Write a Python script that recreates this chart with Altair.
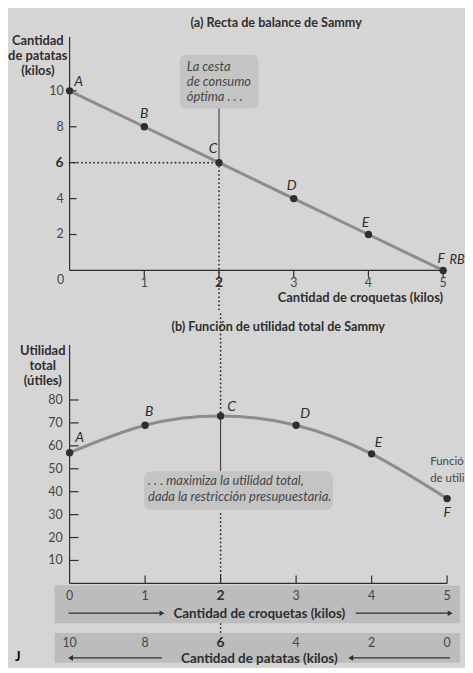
import altair as alt
import pandas as pd

# ---------------- data ----------------
croquetas = [0, 1, 2, 3, 4, 5]
patatas = [10, 8, 6, 4, 2, 0]
utilidad = [57, 69, 73, 69, 56.5, 37]
puntos = ["A", "B", "C", "D", "E", "F"]
ticks_patatas = [2, 4, 6, 8, 10]
ticks_utilidad = [10, 20, 30, 40, 50, 60, 70, 80]
ticks_croquetas = [1, 2, 3, 4, 5]
optimo_croq = 2
optimo_pat = 6
optimo_util = 73

FONT = "Lato"
INK = "#2e2e2e"
SOFT = "#464646"
BG = "#d5d5d5"
LINE = "#8c8c8c"
BAND = "#bcbcbc"
BOX = "#c4c4c4"

W_A, W_B = 376, 380
H_A, H_B = 235, 240

df = pd.DataFrame({"croq": croquetas, "pat": patatas, "util": utilidad, "pt": puntos})
one = pd.DataFrame({"k": [0]})

xs = alt.Scale(domain=[0, 5], nice=False, zero=False)
ysa = alt.Scale(domain=[0, 13], nice=False, zero=False)
ysb = alt.Scale(domain=[0, 104], nice=False, zero=False)


def X(f):
    return alt.X(f, type="quantitative", scale=xs, axis=None)


def Ya(f):
    return alt.Y(f, type="quantitative", scale=ysa, axis=None)


def Yb(f):
    return alt.Y(f, type="quantitative", scale=ysb, axis=None)


def txt(text, x, y, **kw):
    props = dict(font=FONT, color=INK, fontSize=12.5)
    props.update(kw)
    return alt.Chart(one).mark_text(text=text, **props).encode(
        x=alt.value(x), y=alt.value(y))


def rect(x, x2, y, y2, **kw):
    return alt.Chart(one).mark_rect(**kw).encode(
        x=alt.value(x), x2=alt.value(x2), y=alt.value(y), y2=alt.value(y2))


def arrow(x1, x2, y, head_left):
    line = alt.Chart(one).mark_rule(color=INK, strokeWidth=1.2).encode(
        x=alt.value(x1), x2=alt.value(x2), y=alt.value(y))
    hx = x1 if head_left else x2
    head = alt.Chart(one).mark_point(
        shape="triangle-left" if head_left else "triangle-right",
        filled=True, color=INK, opacity=1, size=32).encode(
        x=alt.value(hx), y=alt.value(y))
    return [line, head]


DOT = dict(color=INK, strokeWidth=1.8, strokeDash=[0.1, 4], strokeCap="round")


def tick_labels(values, field_pos, Yf, ypix, boldval, xpix=None, align="center"):
    d = pd.DataFrame({"v": values})
    layers = []
    for cond, wt, fs in [(f"datum.v != {boldval}", "normal", 12.5),
                         (f"datum.v == {boldval}", "bold", 14)]:
        enc = {}
        if field_pos == "x":
            enc["x"] = X("v")
            enc["y"] = alt.value(ypix)
        else:
            enc["y"] = Yf("v")
            enc["x"] = alt.value(xpix)
        enc["text"] = alt.Text("v:Q")
        layers.append(alt.Chart(d).transform_filter(cond).mark_text(
            font=FONT, color=SOFT if wt == "normal" else INK, fontSize=fs, fontWeight=wt,
            align=align, baseline="middle").encode(**enc))
    return layers


def point_labels(Yfield, Yf, offsets):
    out = []
    for p, (dx, dy) in offsets.items():
        out.append(alt.Chart(df).transform_filter(f"datum.pt == '{p}'").mark_text(
            font=FONT, color=INK, fontSize=14, fontStyle="italic", dx=dx, dy=dy).encode(
            x=X("croq"), y=Yf(Yfield), text="pt:N"))
    return out


opt = pd.DataFrame({"x": [optimo_croq], "x0": [0], "y": [optimo_pat], "u": [optimo_util]})

# ---------------- panel (a) ----------------
pa = [
    rect(-59, W_A + 22, -27, H_A + 40, fill=BG),
    txt("(a) Recta de balance de Sammy", 208, -14, fontWeight="bold", fontSize=12.7),
    rect(111, 190, 18, 72, fill=BOX, cornerRadius=6),
    txt(["La cesta", "de consumo", "óptima . . ."], 118, 24, align="left", baseline="top",
        fontStyle="italic", fontSize=13, lineHeight=15, color=SOFT),
    alt.Chart(opt).mark_rule(color=INK, strokeWidth=1).encode(
        x=X("x"), y=Ya("y"), y2=alt.value(72)),
    alt.Chart(opt).mark_rule(**DOT).encode(x=X("x0"), x2=alt.X2("x"), y=Ya("y")),
    alt.Chart(opt).mark_rule(**DOT).encode(x=X("x"), y=Ya("y"), y2=alt.value(H_A + 40)),
    alt.Chart(pd.DataFrame({"x": [0, 0], "x2": [0, 5], "y": [0, 0], "y2": [13, 0]})).mark_rule(
        color=INK, strokeWidth=1.2).encode(x=X("x"), x2="x2", y=Ya("y"), y2="y2"),
    alt.Chart(pd.DataFrame({"v": ticks_patatas})).mark_rule(color=INK, strokeWidth=1.2).encode(
        x=alt.value(0), x2=alt.value(7), y=Ya("v")),
    alt.Chart(pd.DataFrame({"v": ticks_croquetas})).mark_rule(color=INK, strokeWidth=1.2).encode(
        x=X("v"), y=alt.value(H_A), y2=alt.value(H_A + 7)),
    *tick_labels(ticks_patatas, "y", Ya, None, optimo_pat, xpix=-6, align="right"),
    *tick_labels(ticks_croquetas, "x", Ya, H_A + 13, optimo_croq),
    txt("0", -9, H_A + 10, color=SOFT),
    txt("Cantidad de croquetas (kilos)", W_A, H_A + 28, align="right", fontWeight="bold",
        fontSize=13),
    txt(["Cantidad", "de patatas", "(kilos)"], -32, -2, baseline="top", fontWeight="bold",
        fontSize=13, lineHeight=15),
    alt.Chart(df).mark_line(color=LINE, strokeWidth=3).encode(x=X("croq"), y=Ya("pat")),
    alt.Chart(df).mark_circle(size=55, color=INK, opacity=1).encode(x=X("croq"), y=Ya("pat")),
    *point_labels("pat", Ya, {"A": (9, -9), "B": (0, -13), "C": (-6, -14),
                              "D": (-2, -13), "E": (-3, -12), "F": (-2, -11)}),
    alt.Chart(df).transform_filter("datum.pt == 'F'").mark_text(
        text="RB", font=FONT, color=INK, fontSize=13, fontStyle="italic", dx=14, dy=-10).encode(
        x=X("croq"), y=Ya("pat")),
]
panel_a = alt.layer(*pa).properties(width=W_A, height=H_A)

# ---------------- panel (b) ----------------
pb = [
    rect(-59, W_A + 22, -35, 320, fill=BG),
    txt("(b) Función de utilidad total de Sammy", 210, -18, fontWeight="bold", fontSize=12.7),
    alt.Chart(opt).mark_rule(**DOT).encode(x=X("x"), y=alt.value(170), y2=alt.value(293)),
    rect(-15, 393, 242, 280, fill=BAND),
    rect(-15, 393, 290, 320, fill=BAND),
    alt.Chart(opt).mark_rule(**DOT).encode(x=X("x"), y=Yb("u"), y2=alt.value(-35)),
    alt.Chart(opt).mark_rule(color=INK, strokeWidth=1).encode(x=X("x"), y=Yb("u"), y2=alt.value(127)),
    rect(75, 265, 127, 166, fill=BOX, cornerRadius=7),
    txt([". . . maximiza la utilidad total,", "dada la restricción presupuestaria."], 79, 131,
        align="left", baseline="top", fontStyle="italic", fontSize=13, lineHeight=16, color=SOFT),
    alt.Chart(pd.DataFrame({"x": [0, 0], "x2": [0, 5], "y": [0, 0], "y2": [104, 0]})).mark_rule(
        color=INK, strokeWidth=1.2).encode(x=X("x"), x2="x2", y=Yb("y"), y2="y2"),
    alt.Chart(pd.DataFrame({"v": ticks_utilidad})).mark_rule(color=INK, strokeWidth=1.2).encode(
        x=alt.value(0), x2=alt.value(9), y=Yb("v")),
    alt.Chart(pd.DataFrame({"v": ticks_croquetas})).mark_rule(color=INK, strokeWidth=1.2).encode(
        x=X("v"), y=alt.value(H_B - 8), y2=alt.value(H_B)),
    *tick_labels(ticks_utilidad, "y", Yb, None, -1, xpix=-7, align="right"),
    alt.Chart(df).mark_line(color=LINE, strokeWidth=3, interpolate="natural").encode(
        x=X("croq"), y=Yb("util")),
    alt.Chart(df).mark_circle(size=55, color=INK, opacity=1).encode(x=X("croq"), y=Yb("util")),
    *point_labels("util", Yb, {"A": (10, -15), "B": (4, -13), "C": (11, -9),
                               "D": (9, -11), "E": (7, -11), "F": (0, 15)}),
    txt(["Función", "de utilidad total"], 363, 112, align="left", baseline="top", fontSize=11.5,
        lineHeight=17, limit=35, ellipsis="\u200b", color=SOFT),
    txt(["Utilidad", "total", "(útiles)"], -27, 0, baseline="top", fontWeight="bold",
        fontSize=13, lineHeight=15),
    # croquetas labels in band 1
    alt.Chart(df).transform_filter(f"datum.croq != {optimo_croq}").mark_text(
        font=FONT, color=SOFT, fontSize=12.5).encode(x=X("croq"), y=alt.value(253), text="croq:Q"),
    alt.Chart(df).transform_filter(f"datum.croq == {optimo_croq}").mark_text(
        font=FONT, color=INK, fontSize=14, fontWeight="bold").encode(
        x=X("croq"), y=alt.value(253), text="croq:Q"),
    # patatas labels in band 2
    alt.Chart(df).transform_filter(f"datum.pat != {optimo_pat}").mark_text(
        font=FONT, color=SOFT, fontSize=12.5).encode(x=X("croq"), y=alt.value(300), text="pat:Q"),
    alt.Chart(df).transform_filter(f"datum.pat == {optimo_pat}").mark_text(
        font=FONT, color=INK, fontSize=14, fontWeight="bold").encode(
        x=X("croq"), y=alt.value(300), text="pat:Q"),
    *arrow(-1, 93, 270, False),
    *arrow(288, 383, 270, False),
    txt("Cantidad de croquetas (kilos)", 191, 271, fontWeight="bold", fontSize=13.5),
    *arrow(1, 93, 315, True),
    *arrow(283, 383, 315, True),
    txt("Cantidad de patatas (kilos)", 191, 316, fontWeight="bold", fontSize=13.5),
    txt("J", -55, 314, align="left", fontWeight="bold", fontSize=13, color="#000000"),
]
panel_b = alt.layer(*pb).properties(width=W_B, height=H_B)

chart = alt.vconcat(panel_a, panel_b, spacing=75, bounds="flush", padding=0,
                    background=BG).configure_view(stroke=None)

chart.save("out.html", embed_options={"renderer": "svg", "actions": False})
